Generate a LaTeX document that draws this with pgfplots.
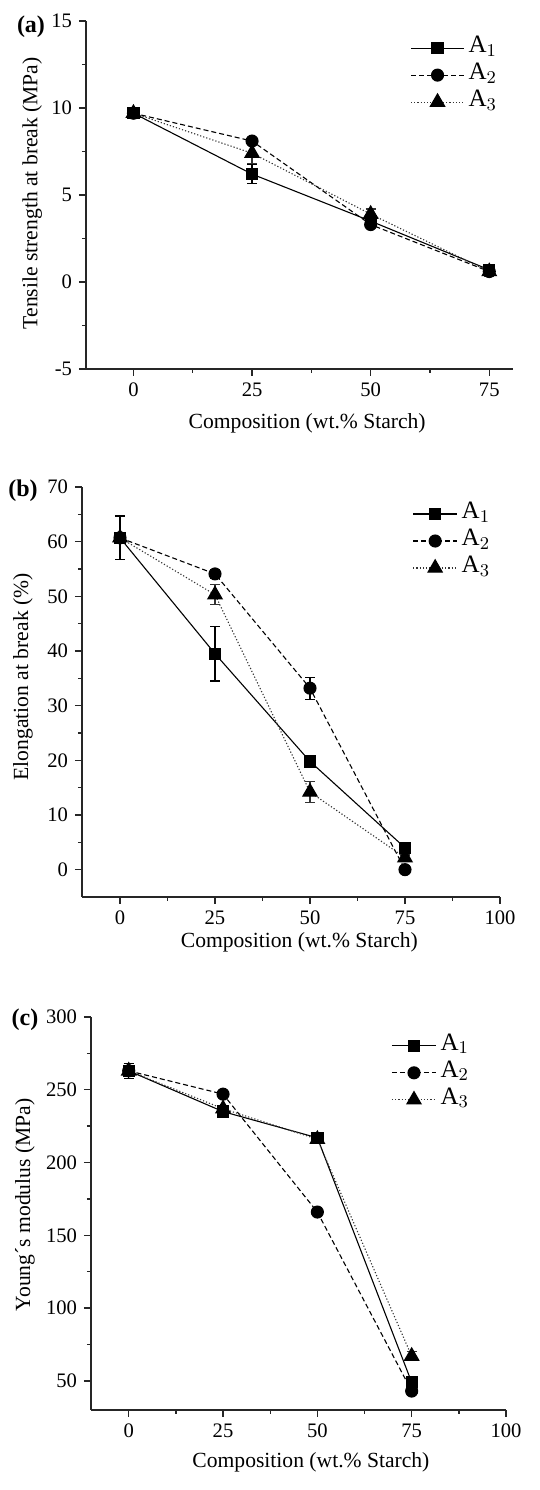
\documentclass[border=0pt]{standalone}
\usepackage{fontspec}
\setmainfont{Liberation Serif}
\usepackage{pgfplots}
\pgfplotsset{compat=1.18}
\pgfplotstableread{
x y e
0 9.7 0.3
25 6.2 0.55
50 3.5 0.2
75 0.7 0.15
}\TaA
\pgfplotstableread{
x y e
0 9.7 0.2
25 8.1 0.1
50 3.3 0.1
75 0.6 0.1
}\TaB
\pgfplotstableread{
x y e
0 9.7 0.2
25 7.4 0.6
50 3.9 0.3
75 0.6 0.3
}\TaC
\pgfplotstableread{
x y e
0 60.7 4.0
25 39.5 5.0
50 19.8 0.5
75 4.0 0.3
}\TbA
\pgfplotstableread{
x y e
0 60.7 0.5
25 54.1 0.8
50 33.2 2.0
75 0.0 0.3
}\TbB
\pgfplotstableread{
x y e
0 60.7 0.5
25 50.3 1.8
50 14.2 1.9
75 2.2 0.5
}\TbC
\pgfplotstableread{
x y e
0 263 5
25 235 2
50 217 2
75 49 2
}\TcA
\pgfplotstableread{
x y e
0 263 2
25 247 1
50 166 1
75 43 1
}\TcB
\pgfplotstableread{
x y e
0 263 3
25 237 2
50 216 2
75 67 3
}\TcC
\pgfplotsset{
  panel/.style={
    scale only axis,
    axis x line=bottom, axis y line=left,
    axis line style={-, line width=0.75pt, black!85},
    tick align=outside,
    major tick length=3.5pt, minor tick length=2pt,
    every tick/.style={line width=0.7pt, black!85},
    minor x tick num=1, minor y tick num=1,
    xtick={0,25,50,75,100},
    /pgf/number format/assume math mode=true,
    tick label style={font=\fontsize{10.3}{12}\selectfont},
    label style={font=\fontsize{10.8}{13}\selectfont},
    xlabel={Composition (wt.\% Starch)},
    legend cell align=left,
    legend style={draw=none, fill=none, inner sep=0pt, row sep=0pt, column sep=2pt,
      font=\fontsize{12.5}{14}\selectfont,
      nodes={inner sep=0pt, text height=9pt, text depth=4.5pt}},
    error bars/error bar style={line width=0.6pt, solid},
    error bars/error mark options={rotate=90, mark size=2.5pt, line width=0.6pt, solid},
    clip=false,
  },
  sA/.style={black, line width=0.55pt, solid, mark=square*, mark size=2.8pt, mark options={solid, fill=black}},
  sB/.style={black, line width=0.55pt, dash pattern=on 2.5pt off 1.5pt, mark=*, mark size=3pt, mark options={solid, fill=black}},
  sC/.style={black!80, line width=0.55pt, dash pattern=on 0.6pt off 1pt, mark=triangle*, mark size=4.1pt, mark options={solid, fill=black, draw=black}},
  legline/.style={legend image code/.code={%
    \draw[##1, mark=none] (0pt,0pt) -- (#1,0pt);
    \draw[##1, only marks] plot coordinates {(#1/2,0pt)};}},
}
\begin{document}
\begin{tikzpicture}
\path[use as bounding box] (0,0) rectangle (270pt,745pt);
% (a)
\begin{axis}[panel, at={(43pt,560.5pt)}, anchor=south west,
  width=213.5pt, height=174pt,
  xmin=-10, xmax=80, ymin=-5, ymax=15, ytick={-5,0,5,10,15},
  ylabel={Tensile strength at break (MPa)},
  ylabel style={at={(axis description cs:-0.126,0.505)}, anchor=center},
  xlabel style={at={(axis description cs:0.518,-0.155)}, anchor=center},
  legline=26.5pt,
  legend style={at={(axis description cs:0.759,0.962)}, anchor=north west}]
\addplot+[sA, error bars/.cd, y dir=both, y explicit] table[x=x,y=y,y error=e]{\TaA};
\addplot+[sB, error bars/.cd, y dir=both, y explicit] table[x=x,y=y,y error=e]{\TaB};
\addplot+[sC, error bars/.cd, y dir=both, y explicit] table[x=x,y=y,y error=e]{\TaC};
\legend{A$_1$, A$_2$, A$_3$}
\end{axis}
% (b)
\begin{axis}[panel, at={(41pt,296.5pt)}, anchor=south west,
  width=209pt, height=205pt,
  xmin=-10, xmax=100, ymin=-5, ymax=70, ytick={0,10,...,70},
  ylabel={Elongation at break (\%)},
  ylabel style={at={(axis description cs:-0.141,0.537)}, anchor=center},
  xlabel style={at={(axis description cs:0.52,-0.11)}, anchor=center},
  legline=22pt,
  legend style={at={(axis description cs:0.79,0.968)}, anchor=north west}]
\addplot+[sA, error bars/.cd, y dir=both, y explicit] table[x=x,y=y,y error=e]{\TbA};
\addplot+[sB, error bars/.cd, y dir=both, y explicit] table[x=x,y=y,y error=e]{\TbB};
\addplot+[sC, error bars/.cd, y dir=both, y explicit] table[x=x,y=y,y error=e]{\TbC};
\legend{A$_1$, A$_2$, A$_3$}
\end{axis}
% (c)
\begin{axis}[panel, at={(45.5pt,40pt)}, anchor=south west,
  width=207.5pt, height=196.5pt,
  xmin=-10, xmax=100, ymin=30, ymax=300, ytick={50,100,...,300},
  minor ytick={75,125,...,275},
  ylabel={Young´s modulus (MPa)},
  ylabel style={at={(axis description cs:-0.159,0.522)}, anchor=center},
  xlabel style={at={(axis description cs:0.53,-0.132)}, anchor=center},
  legline=22pt,
  legend style={at={(axis description cs:0.723,0.962)}, anchor=north west}]
\addplot+[sA, error bars/.cd, y dir=both, y explicit] table[x=x,y=y,y error=e]{\TcA};
\addplot+[sB, error bars/.cd, y dir=both, y explicit] table[x=x,y=y,y error=e]{\TcB};
\addplot+[sC, error bars/.cd, y dir=both, y explicit] table[x=x,y=y,y error=e]{\TcC};
\legend{A$_1$, A$_2$, A$_3$}
\end{axis}
\node[font=\fontsize{12}{14}\selectfont\bfseries] at (15.5pt,731.5pt) {(a)};
\node[font=\fontsize{12}{14}\selectfont\bfseries] at (11.5pt,499.5pt) {(b)};
\node[font=\fontsize{12}{14}\selectfont\bfseries] at (12.5pt,235pt) {(c)};
\end{tikzpicture}
\end{document}
